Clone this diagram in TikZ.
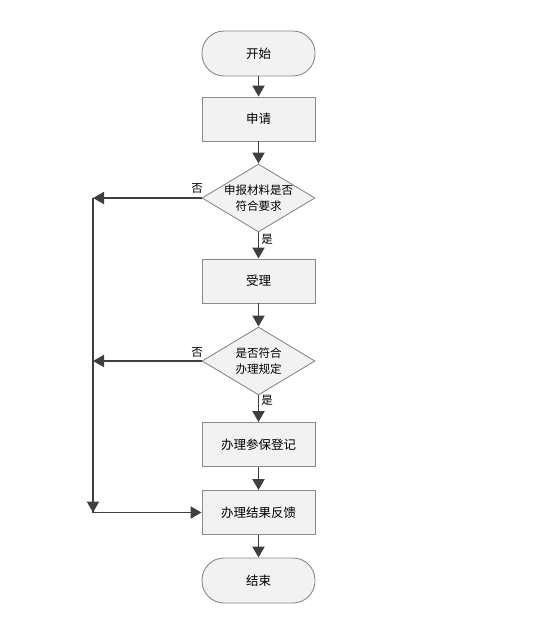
\documentclass[tikz,border=0pt]{standalone}
\usepackage{fontspec}
\setmainfont{Noto Sans CJK SC}
\usetikzlibrary{shapes.geometric,arrows.meta}
\definecolor{boxfill}{HTML}{F2F2F2}
\definecolor{boxline}{HTML}{8A8A8A}
\definecolor{arrowc}{HTML}{3F3F3F}
\tikzset{
  base/.style={draw=boxline, fill=boxfill, line width=0.9pt, inner sep=0pt, font=\fontsize{12.5}{14}\selectfont},
  term/.style={base, rectangle, rounded corners=22pt, minimum width=113pt, minimum height=45pt},
  procbox/.style={base, rectangle, minimum width=113pt, minimum height=44pt},
  decis/.style={base, diamond, minimum width=113pt, minimum height=68pt},
  dtext/.style={align=center, inner sep=0pt, font=\fontsize{11.5}{16}\selectfont},
  conn/.style={draw=arrowc, line width=1.9pt, -{Triangle[length=11pt,width=12pt]}},
  plain/.style={draw=arrowc, line width=1.9pt},
  lbl/.style={font=\fontsize{11.5}{12}\selectfont, inner sep=0pt}
}
\begin{document}
\begin{tikzpicture}[x=1pt,y=-1pt]
\useasboundingbox (0,0) rectangle (551,631);
\node[term] (start) at (258.5,53.5) {开始};
\node[procbox] (apply) at (258.5,119) {申请};
\node[decis] (d1) at (258.5,198) {};
\node[dtext] (d1t) at (d1) {申报材料是否\\符合要求};
\node[procbox] (accept) at (258.5,281) {受理};
\node[decis] (d2) at (258.5,361) {};
\node[dtext] (d2t) at (d2) {是否符合\\办理规定};
\node[procbox] (reg) at (258.5,444.5) {办理参保登记};
\node[procbox] (fb) at (258.5,512.5) {办理结果反馈};
\node[term] (end) at (258.5,580.5) {结束};
\coordinate (l1) at (93,198);
\coordinate (l2) at (93,361);
\coordinate (l3) at (93,512.5);
\draw[conn] (start) -- (apply);
\draw[conn] (apply) -- (d1);
\draw[conn] (d1) -- (accept);
\draw[conn] (accept) -- (d2);
\draw[conn] (d2) -- (reg);
\draw[conn] (reg) -- (fb);
\draw[conn] (fb) -- (end);
\draw[plain] (l1) -- (l3);
\draw[conn] (d1.west) -- (l1);
\draw[conn] (d2.west) -- (l2);
\draw[conn] (l1) -- (l3);
\draw[conn] (l3) -- (fb.west);
\node[lbl] (n1) at (197,188) {否};
\node[lbl] (y1) at (267,239) {是};
\node[lbl] (n2) at (197,352) {否};
\node[lbl] (y2) at (267,400) {是};
\end{tikzpicture}
\end{document}
